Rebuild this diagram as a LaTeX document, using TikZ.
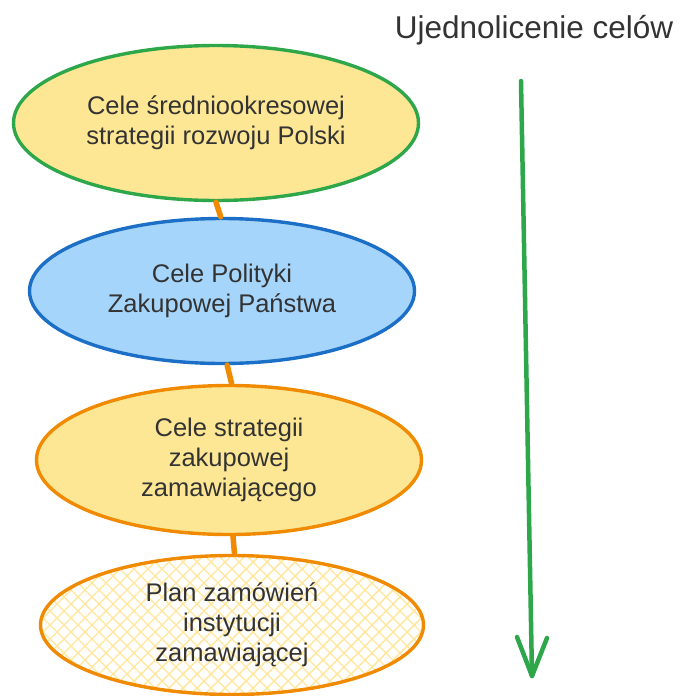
\documentclass[tikz,border=0pt]{standalone}
\usepackage{fontspec}
\setmainfont{Liberation Sans}
\usetikzlibrary{shapes.geometric}
\definecolor{txtgray}{HTML}{333333}
\definecolor{goalyellow}{HTML}{FDE794}
\definecolor{hatchyellow}{HTML}{FFE699}
\definecolor{goalblue}{HTML}{A6D5FB}
\definecolor{edgeblue}{HTML}{1C6FC6}
\definecolor{edgegreen}{HTML}{2EA64A}
\definecolor{edgeorange}{HTML}{F08A00}
\tikzset{
  goal/.style={ellipse, inner sep=0pt, line width=3.4pt, align=center,
    text=txtgray, font=\fontsize{25.5}{30}\selectfont},
  link/.style={draw=edgeorange, line width=5.5pt, line cap=round},
  trend/.style={draw=edgegreen, line width=4.5pt, line cap=round, line join=round},
}
\begin{document}
\begin{tikzpicture}[x=1pt,y=-1pt]
\useasboundingbox (0,0) rectangle (681,696);

% title
\node[anchor=base, text=txtgray, font=\fontsize{31.5}{36}\selectfont] (title) at (534,38) {Ujednolicenie celów};

% goal ellipses
\node[goal, fill=goalyellow, draw=edgegreen, minimum width=405pt, minimum height=155pt] (g1) at (216,123)
  {Cele średniookresowej\\strategii rozwoju Polski};
\node[goal, fill=goalblue, draw=edgeblue, minimum width=385pt, minimum height=145pt] (g2) at (222,291)
  {Cele Polityki\\Zakupowej Państwa};
\node[goal, fill=goalyellow, draw=edgeorange, minimum width=385pt, minimum height=149pt] (g3) at (229,460)
  {Cele strategii\\zakupowej\\zamawiającego};

% hatched plan ellipse
\begin{scope}
  \clip (232,625) ellipse [x radius=192pt, y radius=70pt];
  \fill[white] (40,555) rectangle (425,696);
  \foreach \k in {-30,...,30} {
    \draw[hatchyellow, line width=1.4pt] ({232+\k*14-160},{625-160}) -- ({232+\k*14+160},{625+160});
    \draw[hatchyellow, line width=1.4pt] ({232+\k*14+160},{625-160}) -- ({232+\k*14-160},{625+160});
  }
\end{scope}
\node[goal, draw=edgeorange, minimum width=383pt, minimum height=139pt] (g4) at (232,625)
  {Plan zamówień\\instytucji\\zamawiającej};

% links between consecutive goals
\draw[link] (g1.south) -- (g2.91);
\draw[link] (g2.-86) -- (g3.88);
\draw[link] (g3.-87) -- (g4.88);

% alignment direction arrow
\coordinate (gtop) at (521,81);
\coordinate (gtip) at (532,676);
\coordinate (wingl) at (517,637);
\coordinate (wingr) at (547,638);
\draw[trend] (gtop) -- (gtip);
\draw[trend] (wingl) -- (gtip) -- (wingr);
\end{tikzpicture}
\end{document}
